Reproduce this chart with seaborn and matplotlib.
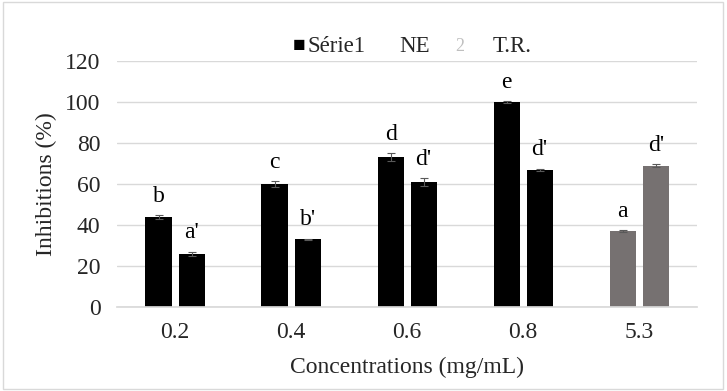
import matplotlib
matplotlib.use('Agg')
import matplotlib.pyplot as plt
import seaborn as sns
import pandas as pd
from matplotlib.patches import Rectangle

# data
concentrations = ['0.2', '0.4', '0.6', '0.8', '5.3']
ne_values = [44, 60, 73, 100, 37]
tr_values = [26, 33, 61, 67, 69]
ne_errors = [1.0, 1.5, 2.0, 0.3, 0.5]
tr_errors = [1.0, 0.3, 2.0, 0.5, 0.5]
ne_letters = ['b', 'c', 'd', 'e', 'a']
tr_letters = ["a'", "b'", "d'", "d'", "d'"]

df = pd.DataFrame({
    'conc': concentrations * 2,
    'inhib': ne_values + tr_values,
    'serie': ['NE'] * 5 + ['T.R.'] * 5,
})

sns.set_theme(style='white')
plt.rcParams['font.family'] = ['Liberation Serif', 'DejaVu Serif']

fig = plt.figure(figsize=(7.27, 3.91), dpi=100)
ax = fig.add_axes([0.161, 0.215, 0.798, 0.629])

sns.barplot(data=df, x='conc', y='inhib', hue='serie', order=concentrations,
            hue_order=['NE', 'T.R.'], palette=['black', 'black'],
            width=0.57, gap=0.21, errorbar=None, legend=False, ax=ax)

# last group drawn in gray, add error bars and letters
bars = [p for p in ax.patches if isinstance(p, Rectangle) and p.get_width() > 0]
ne_bars, tr_bars = bars[:5], bars[5:10]
for i in range(5):
    for b, v, e, lab in [(ne_bars[i], ne_values[i], ne_errors[i], ne_letters[i]),
                         (tr_bars[i], tr_values[i], tr_errors[i], tr_letters[i])]:
        if i == 4:
            b.set_facecolor('#767171')
        b.set_edgecolor('none')
        cx = b.get_x() + b.get_width() / 2
        ax.errorbar(cx, v, yerr=e, fmt='none', ecolor='#595959', elinewidth=0.8,
                    capsize=3, capthick=0.8)
        ax.text(cx, v + e + 4, lab, ha='center', va='bottom', fontsize=17, color='black')

ax.set_ylim(0, 120)
ax.set_xlim(-0.5, 4.5)
ax.set_yticks(range(0, 121, 20))
ax.yaxis.grid(True, color='#d9d9d9', linewidth=1)
ax.set_axisbelow(True)
for s in ['top', 'right', 'left']:
    ax.spines[s].set_visible(False)
ax.spines['bottom'].set_color('#d9d9d9')
ax.tick_params(axis='y', length=0, labelsize=17, pad=12)
ax.tick_params(axis='x', length=0, labelsize=17, pad=11)
ax.set_xlabel('Concentrations (mg/mL)', fontsize=17, labelpad=10)
ax.set_ylabel('Inhibitions (%)', fontsize=17, labelpad=6)

# legend as in the original
ly = 0.882
fig.text(0.402, ly, '\u25a0', fontsize=15, ha='left', va='center', color='black')
fig.text(0.423, ly, 'Série1', fontsize=16.5, ha='left', va='center')
fig.text(0.549, ly, 'NE', fontsize=16.5, ha='left', va='center')
fig.text(0.626, ly, '2', fontsize=13, ha='left', va='center', color='#bfbfbf')
fig.text(0.677, ly, 'T.R.', fontsize=16.5, ha='left', va='center')

# chart border
fig.patches.append(Rectangle((0.004, 0.005), 0.99, 0.99, transform=fig.transFigure,
                             fill=False, edgecolor='#d9d9d9', linewidth=1))

fig.savefig('out.png', dpi=100)
